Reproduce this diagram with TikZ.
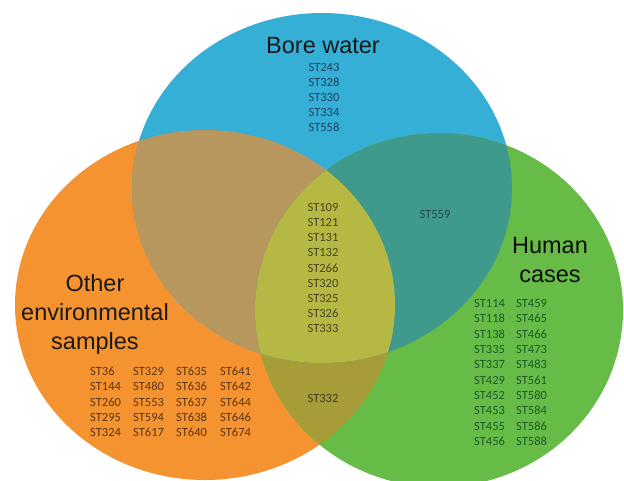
\documentclass[tikz,border=0pt]{standalone}
\usepackage{fontspec}
\setmainfont{Liberation Sans}
\newfontfamily\stfont{Carlito}
\definecolor{cBl}{HTML}{35AFD5}
\definecolor{cOr}{HTML}{F59331}
\definecolor{cGr}{HTML}{66BC47}
\definecolor{cOB}{HTML}{B7975E}
\definecolor{cBG}{HTML}{3F9A8C}
\definecolor{cOG}{HTML}{A69D39}
\definecolor{cAll}{HTML}{B5B843}
\definecolor{tBl}{HTML}{1D3F5E}
\definecolor{tAll}{HTML}{474520}
\definecolor{tBG}{HTML}{1E4A48}
\definecolor{tGr}{HTML}{1F5A28}
\definecolor{tOr}{HTML}{5A3414}
\definecolor{tOG}{HTML}{3F3A18}
\tikzset{
  title/.style={font=\fontsize{23.5}{29}\selectfont, text=black!90, align=center, inner sep=0pt},
  stlist/.style={font=\stfont\fontsize{12.5}{15.2}\selectfont, align=center, inner sep=0pt},
  stcol/.style={font=\stfont\fontsize{12.5}{15.3}\selectfont, align=left, inner sep=0pt, anchor=west},
}
\def\orangeset{(205,305) ellipse [x radius=190pt, y radius=175pt]}
\def\blueset{(322,188) ellipse [x radius=190pt, y radius=175pt]}
\def\greenset{(439,310) ellipse [x radius=184pt, y radius=177pt]}
\begin{document}
\begin{tikzpicture}[x=1pt,y=-1pt]
\useasboundingbox (0,0) rectangle (624,480);
\clip (0,0) rectangle (624,480);
\fill[white] (0,0) rectangle (624,480);
\fill[cOr] \orangeset;
\fill[cBl] \blueset;
\fill[cGr] \greenset;
\begin{scope}\clip \orangeset; \fill[cOB] \blueset; \end{scope}
\begin{scope}\clip \orangeset; \fill[cOG] \greenset; \end{scope}
\begin{scope}\clip \blueset; \fill[cBG] \greenset; \end{scope}
\begin{scope}\clip \orangeset; \clip \blueset; \fill[cAll] \greenset; \end{scope}

\node[title] (bore) at (323,46) {Bore water};
\node[title, text=black!95] (human) at (550,260) {Human\\cases};
\node[title, font=\fontsize{23.5}{29}\selectfont] (other) at (95,314) {Other\\environmental\\samples};

\node[stlist, text=tBl] (blist) at (324,97.5) {ST243\\ST328\\ST330\\ST334\\ST558};
\node[stlist, text=tAll] (clist) at (323,268) {ST109\\ST121\\ST131\\ST132\\ST266\\ST320\\ST325\\ST326\\ST333};
\node[stlist, text=tBG] (bg) at (435,214) {ST559};
\node[stlist, text=tOG] (og) at (323,398) {ST332};

\node[stcol, text=tGr] (h1) at (474,372.5) {ST114\\ST118\\ST138\\ST335\\ST337\\ST429\\ST452\\ST453\\ST455\\ST456};
\node[stcol, text=tGr] (h2) at (516,372.5) {ST459\\ST465\\ST466\\ST473\\ST483\\ST561\\ST580\\ST584\\ST586\\ST588};

\node[stcol, text=tOr] (o1) at (90,402) {ST36\\ST144\\ST260\\ST295\\ST324};
\node[stcol, text=tOr] (o2) at (133,402) {ST329\\ST480\\ST553\\ST594\\ST617};
\node[stcol, text=tOr] (o3) at (176,402) {ST635\\ST636\\ST637\\ST638\\ST640};
\node[stcol, text=tOr] (o4) at (220,402) {ST641\\ST642\\ST644\\ST646\\ST674};
\end{tikzpicture}
\end{document}
